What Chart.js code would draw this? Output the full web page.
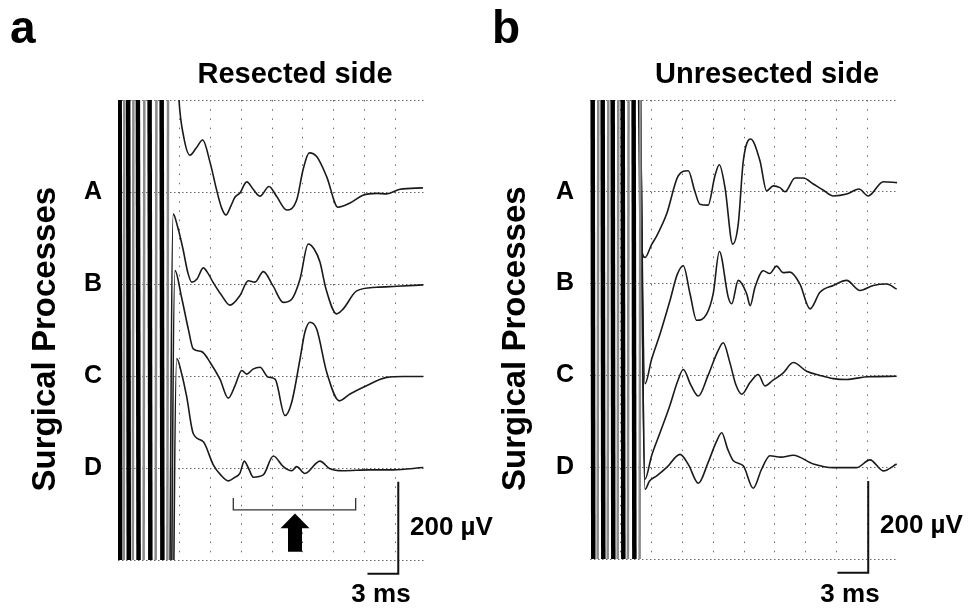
<!DOCTYPE html>
<html>
<head>
<meta charset="utf-8">
<script src="https://cdn.jsdelivr.net/npm/chart.js@4.4.1/dist/chart.umd.min.js"></script>
<style>
  html, body { margin: 0; padding: 0; background: #fff; }
  body { width: 975px; height: 612px; position: relative; overflow: hidden;
         font-family: "Liberation Sans", Arial, sans-serif; font-weight: bold; color: #000; }
  canvas { position: absolute; top: 0; }
  #left { left: 0; }
  #right { left: 487px; }
  .lbl { position: absolute; line-height: 1; white-space: nowrap; }
  .c { text-align: center; }
</style>
</head>
<body>
<canvas id="left" width="487" height="612"></canvas>
<canvas id="right" width="488" height="612"></canvas>

<div class="lbl" style="left:10px;top:4px;font-size:46px">a</div>
<div class="lbl" style="left:492px;top:4px;font-size:46px">b</div>
<div class="lbl c" style="left:95px;top:59px;width:400px;font-size:29px">Resected side</div>
<div class="lbl c" style="left:567px;top:59px;width:400px;font-size:29px">Unresected side</div>
<div class="lbl" style="left:410px;top:513px;font-size:26px">200 µV</div>
<div class="lbl" style="left:880px;top:511px;font-size:26px">200 µV</div>
<div class="lbl c" style="left:331px;top:580px;width:100px;font-size:26px">3 ms</div>
<div class="lbl c" style="left:800px;top:580px;width:100px;font-size:26px">3 ms</div>

<script>
// lanes: label and vertical offset (µV) of each recording
const laneLabels = ['A', 'B', 'C', 'D']
const laneBaselines = [800, 600, 400, 200]

// time axis 0-30 ms, one division = 3 ms; amplitude 0-1000 µV, one division = 200 µV
const timeRange = [0, 30, 3]
const voltRange = [0, 1000, 200]

// saturated stimulus artifact (zig-zag, µV) for each side
const leftArtifact = [
  [0.0, 4500], [0.38, -3500], [0.80, 4500], [1.24, -3500], [1.70, 4500], [2.24, -3500],
  [2.82, 4500], [3.41, -3500], [4.00, 4500], [4.58, -3500], [5.10, 4500],
]
const rightArtifact = [
  [0.05, 4500], [0.53, -3500], [1.02, 4500], [1.51, -3500], [2.00, 4500], [2.48, -3500],
  [2.97, 4500], [3.46, -3500], [3.99, 4500], [4.58, -3500], [5.16, 4500],
]

// resected side, [ms, µV]
const leftA = [
  [5.5, 420], [5.94, 200], [6.4, 120], [7.01, 80], [7.6, 95], [8.25, 113], [8.96, 65],
  [9.61, 4], [10.1, -35], [10.52, -50], [11.0, -30], [11.4, -11], [11.88, -2], [12.54, 22],
  [13.2, 5], [13.83, -9], [14.71, 12], [15.46, -10], [16.43, -39], [17.41, -17], [18.02, 48],
  [18.63, 85], [19.35, 77], [20.33, 33], [21.43, -33], [22.6, -24], [23.86, -7], [25.2, -3],
  [26.17, -4], [27.47, 6], [29.7, 9],
]
const leftB = [
  [4.85, -1400], [5.38, 152], [5.8, 125], [6.33, 76], [6.8, 25], [7.18, 4], [7.7, 11],
  [8.31, 35], [8.8, 22], [9.25, 4], [10.1, -25], [10.9, -46], [11.88, -25], [12.69, 7],
  [13.34, 4], [14.15, 27], [15.1, -4], [16.1, -40], [16.92, -33], [17.73, 11], [18.53, 87],
  [19.1, 76], [19.67, 48], [20.26, -11], [21.3, -65], [21.94, -54], [23.25, -15], [25.2, -7],
  [27.15, -5], [29.74, -2],
]
const leftC = [
  [4.95, -1400], [5.55, 229], [6.2, 170], [6.85, 102], [7.33, 59], [8.15, 53], [8.96, 30],
  [9.93, -7], [10.74, -48], [11.4, -21], [12.05, 12], [12.54, 4], [13.15, 15], [13.83, 19],
  [14.6, -2], [15.3, -7], [16.27, -86], [16.92, -57], [17.73, 37], [18.2, 95], [18.7, 117],
  [19.35, 102], [20.33, 8], [21.56, -54], [22.6, -39], [24.2, -21], [26.17, -3], [27.8, -1],
  [29.74, -1],
]
const leftD = [
  [5.05, -1400], [5.72, 238], [6.2, 205], [6.69, 155], [7.33, 75], [8.31, 57], [9.28, 7],
  [10.0, -15], [10.74, -28], [11.4, -20], [11.88, -11], [12.3, 15], [12.7, 0], [13.18, -20],
  [14.15, -15], [15.13, 26], [16.1, 3], [16.92, -6], [17.4, 3], [18.2, -12], [19.67, 15],
  [20.6, -1], [21.9, -6], [24.5, -4], [26.8, -4], [29.74, 1],
]

// unresected side, [ms, µV]
const rightA = [
  [4.55, 700], [4.87, -91], [5.36, -143], [6.0, -115], [6.5, -96], [7.47, -48], [8.6, 35],
  [9.57, 46], [10.2, 2], [10.7, -27], [11.5, -29], [12.17, 35], [12.6, 59], [13.15, 9],
  [13.9, -114], [14.44, -70], [14.93, 67], [15.65, 115], [16.56, 67], [17.2, 2], [17.85, 13],
  [18.5, 9], [19.0, 0], [19.97, 30], [20.78, 30], [21.75, 17], [22.7, 4], [23.7, -9],
  [25.0, -5], [26.2, 6], [27.1, -9], [28.57, 22], [29.9, 20],
]
const rightB = [
  [4.7, 800], [5.36, -218], [6.0, -165], [6.82, -110], [7.79, -37], [8.5, 20], [9.09, 39],
  [9.74, -22], [10.39, -80], [11.37, -66], [12.0, -22], [12.6, 70], [13.47, -30], [13.8, -44],
  [14.44, 7], [15.26, -22], [15.6, -48], [16.07, -8], [16.88, 28], [17.5, 22], [18.18, 38],
  [18.8, 24], [19.48, 25], [20.45, -1], [21.43, -55], [22.4, -19], [23.7, -4], [25.0, 7],
  [26.3, -15], [27.6, -4], [28.9, -1], [29.87, -12],
]
const rightC = [
  [4.8, 900], [5.36, -226], [6.0, -175], [6.82, -125], [7.79, -65], [8.5, -15], [9.09, 13],
  [9.8, -20], [10.55, -45], [11.5, 0], [12.4, 50], [12.98, 71], [13.6, 30], [14.2, -20],
  [14.78, -41], [15.6, -15], [16.39, 2], [17.05, -23], [17.8, -11], [18.8, 5], [19.8, 28],
  [21.1, 9], [22.4, 0], [23.7, -7], [25.0, -9], [26.95, -3], [29.87, -2],
]
const rightD = [
  [4.85, 1000], [5.36, -48], [5.8, -30], [6.5, -19], [7.5, 0], [8.77, 28], [9.6, 5],
  [10.55, -35], [11.5, 10], [12.3, 55], [12.83, 75], [13.4, 40], [13.96, 14], [14.93, 3],
  [15.9, -46], [16.7, -5], [17.53, 25], [18.6, 22], [19.8, 26], [21.75, 7], [23.7, -1],
  [25.98, -1], [27.27, 16], [28.57, -8], [29.87, 7],
]

// calibration bar: corner [ms, µV], 3 ms long, 200 µV tall
const leftBar = { t: 27.3, v: -30, dt: 3, dv: 200 }
const rightBar = { t: 27.1, v: -30, dt: 3, dv: 200 }
// bracket and arrow marking the lost components on the resected side
const leftBracket = { from: 11.23, to: 23.15, v: 109, rise: 26 }
const leftArrow = { t: 17.24, tip: 101, head: 69, base: 18 }

const FONT = 'Liberation Sans'

const scaleMarks = {
  id: 'scaleMarks',
  afterDatasetsDraw(chart, args, opts) {
    const { ctx, scales: { x, y } } = chart
    ctx.save()
    const bar = opts.bar
    if (bar) {
      ctx.strokeStyle = '#111'
      ctx.lineWidth = 2
      ctx.beginPath()
      ctx.moveTo(x.getPixelForValue(bar.t - bar.dt), y.getPixelForValue(bar.v))
      ctx.lineTo(x.getPixelForValue(bar.t), y.getPixelForValue(bar.v))
      ctx.lineTo(x.getPixelForValue(bar.t), y.getPixelForValue(bar.v + bar.dv))
      ctx.stroke()
    }
    const br = opts.bracket
    if (br) {
      ctx.strokeStyle = '#333'
      ctx.lineWidth = 1.3
      ctx.beginPath()
      ctx.moveTo(x.getPixelForValue(br.from), y.getPixelForValue(br.v + br.rise))
      ctx.lineTo(x.getPixelForValue(br.from), y.getPixelForValue(br.v))
      ctx.lineTo(x.getPixelForValue(br.to), y.getPixelForValue(br.v))
      ctx.lineTo(x.getPixelForValue(br.to), y.getPixelForValue(br.v + br.rise))
      ctx.stroke()
    }
    const ar = opts.arrow
    if (ar) {
      const cx = x.getPixelForValue(ar.t)
      const tip = y.getPixelForValue(ar.tip)
      const head = y.getPixelForValue(ar.head)
      const base = y.getPixelForValue(ar.base)
      ctx.fillStyle = '#000'
      ctx.beginPath()
      ctx.moveTo(cx, tip)
      ctx.lineTo(cx + 14.5, head)
      ctx.lineTo(cx + 7, head)
      ctx.lineTo(cx + 7, base)
      ctx.lineTo(cx - 7, base)
      ctx.lineTo(cx - 7, head)
      ctx.lineTo(cx - 14.5, head)
      ctx.closePath()
      ctx.fill()
    }
    ctx.restore()
  },
}

function traceDataset(points, baseline) {
  return {
    data: points.map(([t, v]) => ({ x: t, y: v + baseline })),
    borderColor: '#1a1a1a',
    borderWidth: 1.6,
    pointRadius: 0,
    cubicInterpolationMode: 'monotone',
  }
}

function artifactDataset(points) {
  return {
    data: points.map(([t, v]) => ({ x: t, y: v })),
    borderColor: '#000',
    pointRadius: 0,
    tension: 0,
    segment: {
      borderColor: ctx => (ctx.p0DataIndex % 2 ? '#8a8a8a' : '#000'),
      borderWidth: ctx => (ctx.p0DataIndex % 2 ? 2.5 : 4.5),
    },
  }
}

function makeChart(canvasId, traces, artifact, side) {
  return new Chart(document.getElementById(canvasId), {
    type: 'line',
    data: {
      datasets: [
        artifactDataset(artifact),
        ...traces.map((points, i) => traceDataset(points, laneBaselines[i])),
      ],
    },
    options: {
      responsive: false,
      animation: false,
      devicePixelRatio: 1,
      layout: { padding: side.padding },
      plugins: {
        legend: { display: false },
        tooltip: { enabled: false },
        scaleMarks: side.marks,
      },
      scales: {
        x: {
          type: 'linear',
          min: timeRange[0],
          max: timeRange[1],
          ticks: { display: false, stepSize: timeRange[2] },
          grid: {
            drawTicks: false,
            lineWidth: 1,
            color: ctx => (ctx.tick.value > timeRange[0] && ctx.tick.value < timeRange[1] ? '#6a6a6a' : 'rgba(0,0,0,0)'),
          },
          border: { display: false, dash: [1.5, 7.7] },
          afterFit: s => { s.height = 0 },
        },
        y: {
          type: 'linear',
          min: voltRange[0],
          max: voltRange[1],
          ticks: {
            stepSize: voltRange[2],
            padding: 16,
            color: '#000',
            font: { family: FONT, size: 25, weight: 'bold' },
            callback: v => laneLabels[laneBaselines.indexOf(v)] ?? '',
          },
          grid: { drawTicks: false, lineWidth: 1, color: '#6a6a6a' },
          border: { display: false, dash: [1.5, 2.5] },
          title: {
            display: true,
            // trailing spaces nudge the rotated label down to where the figure has it
            text: 'Surgical Processes  ',
            color: '#000',
            font: { family: FONT, size: 33, weight: 'bold' },
            padding: { top: side.titlePad, bottom: 0 },
          },
          afterFit: s => { s.width = side.axisWidth },
        },
      },
    },
    plugins: [scaleMarks],
  })
}

makeChart('left', [leftA, leftB, leftC, leftD], leftArtifact, {
  padding: { top: 100, bottom: 52, left: 0, right: 61 },
  axisWidth: 118,
  titlePad: 26,
  marks: { bar: leftBar, bracket: leftBracket, arrow: leftArrow },
})

makeChart('right', [rightA, rightB, rightC, rightD], rightArtifact, {
  padding: { top: 100, bottom: 53, left: 0, right: 77 },
  axisWidth: 103,
  titlePad: 9,
  marks: { bar: rightBar },
})
</script>
</body>
</html>
